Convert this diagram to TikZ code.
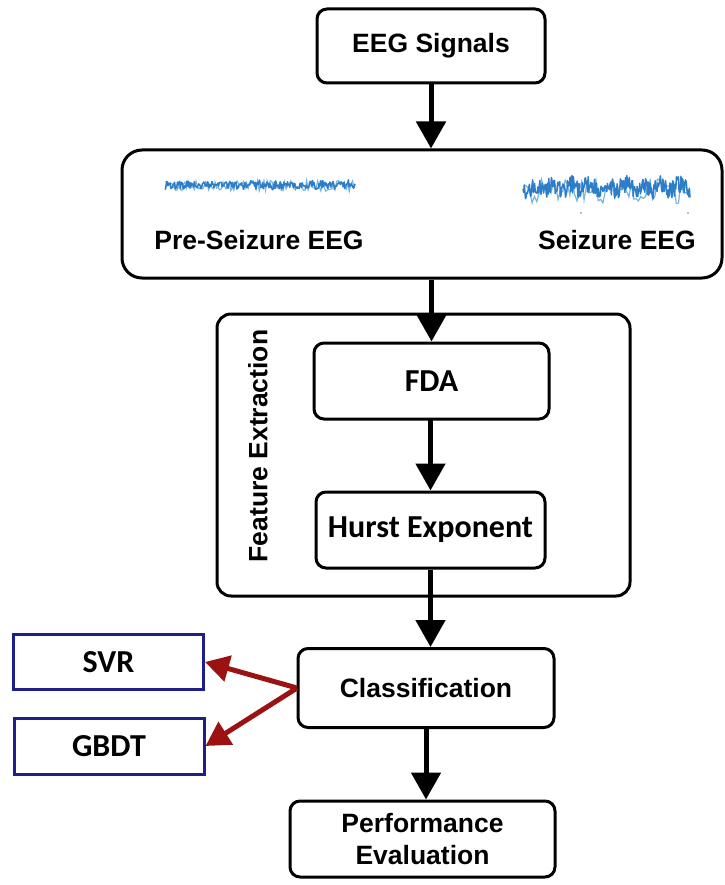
\documentclass[tikz,border=0pt]{standalone}
\usepackage{fontspec}
\setmainfont{Liberation Sans}
\newfontfamily\calib{Carlito}
\usetikzlibrary{arrows.meta}
\definecolor{arrred}{RGB}{155,18,18}
\definecolor{boxblue}{RGB}{30,30,140}
\definecolor{wave}{RGB}{45,125,200}
\definecolor{wavelt}{RGB}{120,180,225}
\begin{document}
\begin{tikzpicture}[x=1pt,y=-1pt,
  rbox/.style={draw=black, line width=3pt, rounded corners=10pt, fill=white},
  ariallbl/.style={font=\fontsize{26.5}{32}\selectfont\bfseries, align=center},
  callbl/.style={font=\calib\fontsize{32}{36}\selectfont\bfseries},
  bluebox/.style={draw=boxblue, line width=3pt, fill=white},
  flow/.style={line width=5pt, -{Triangle[length=27pt,width=29pt]}},
  redarr/.style={draw=arrred, line width=5pt, -{Triangle[length=24pt,width=26pt]}},
  wavestyle/.style={draw=wave, line width=1.5pt, line join=round}
]
\useasboundingbox (0,0) rectangle (724,885);

\node[rbox, minimum width=228pt, minimum height=74pt] (eeg) at (431,46) {};
\node[ariallbl] at (eeg.center) {EEG Signals};

\node[draw=black, line width=3pt, rounded corners=20pt, minimum width=600pt, minimum height=128pt] (sig) at (422,214) {};
\node[ariallbl] (pre) at (259,240) {Pre-Seizure EEG};
\node[ariallbl] (sz) at (617,240) {Seizure EEG};

\node[draw=black, line width=3pt, rounded corners=14pt, minimum width=413pt, minimum height=282pt] (feat) at (423.5,455) {};
\node[ariallbl, rotate=90] (fx) at (258,446) {Feature Extraction};

\node[rbox, minimum width=235pt, minimum height=76pt] (fda) at (431.5,381) {};
\node[callbl] at (fda.center) {FDA};
\node[rbox, minimum width=229pt, minimum height=76pt] (hur) at (430.5,530) {};
\node[callbl] at (hur.center) {Hurst Exponent};

\node[rbox, minimum width=256pt, minimum height=79pt] (cls) at (426,688) {};
\node[ariallbl] at (cls.center) {Classification};

\node[rbox, minimum width=265pt, minimum height=76pt] (perf) at (422.5,839) {};
\node[ariallbl] at (perf.center) {Performance\\Evaluation};

\node[bluebox, minimum width=190pt, minimum height=55pt] (svr) at (108.5,662) {};
\node[callbl] at (svr.center) {SVR};
\node[bluebox, minimum width=190pt, minimum height=56pt] (gbdt) at (109,746) {};
\node[callbl] at (gbdt.center) {GBDT};

% waves
\pgfmathsetseed{11}
\draw[draw=wavelt, line width=1.2pt] plot[domain=166:354, samples=120, variable=\t] (\t, {186+5.5*rand});
\draw[wavestyle] plot[domain=165:355, samples=260, variable=\t] (\t, {185+4*rand+1.2*sin(\t*40)});
\pgfmathsetseed{23}
\draw[draw=wavelt, line width=1.2pt] plot[domain=525:688, samples=70, variable=\t] (\t, {192+13*rand});
\draw[wavestyle] plot[domain=523:690, samples=260, variable=\t] (\t, {187+9*rand+3*sin(\t*20)});
\fill[gray!70] (581,213) circle (1.2pt) (688,213) circle (1.2pt);

% flow arrows
\draw[flow] (eeg.south) -- (eeg.south |- sig.north);
\draw[flow] (sig.south -| fda.north) -- (fda.north);
\draw[flow] (fda.south) -- (fda.south -| hur.north) -- (hur.north);
\draw[flow] (hur.south) -- (hur.south |- cls.north);
\draw[flow] (cls.south) -- (cls.south |- perf.north);

% red arrows
\coordinate (split) at (297,688);
\draw[redarr] (split) -- (svr.east);
\draw[redarr] (split) -- (gbdt.east);
\end{tikzpicture}
\end{document}
